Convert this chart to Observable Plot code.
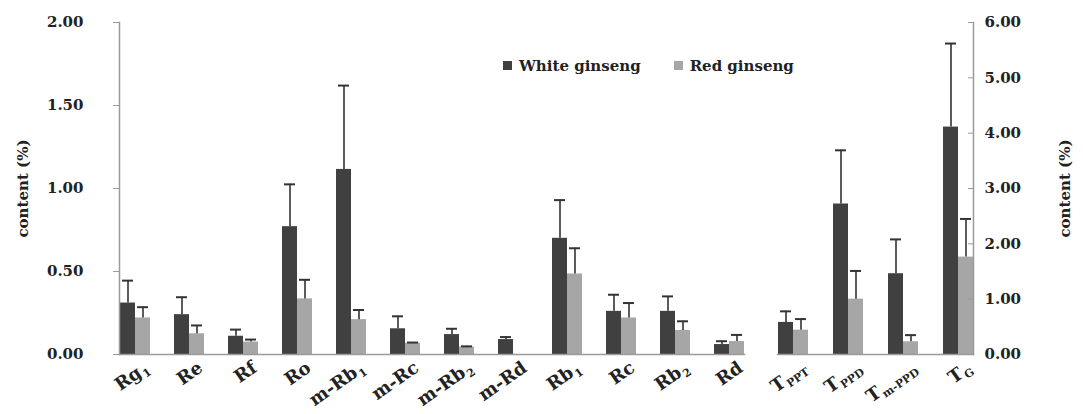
<!DOCTYPE html>
<html>
<head>
<meta charset="utf-8">
<script src="https://cdn.jsdelivr.net/npm/d3@7"></script>
<script src="https://cdn.jsdelivr.net/npm/@observablehq/plot@0.6"></script>
<style>
  html, body { margin: 0; padding: 0; background: #fff; }
  #wrap { position: relative; width: 1083px; height: 414px; overflow: hidden; font-family: "DejaVu Serif", serif; font-weight: bold; color: #222; }
  #wrap svg { position: absolute; top: 0; overflow: visible; }
  #legend { position: absolute; left: 503px; top: 57px; display: flex; gap: 33px; font-size: 15px; z-index: 2; }
  #legend span.sw { display: inline-block; width: 9px; height: 9px; margin-right: 7px; vertical-align: 1px; }
</style>
</head>
<body>
<div id="wrap"><div id="legend"></div></div>
<script>
// ---- data (content %) ----
const series = ["White ginseng", "Red ginseng"];
const seriesColors = ["#404040", "#a6a6a6"];

const leftCats = ["Rg_1", "Re", "Rf", "Ro", "m-Rb_1", "m-Rc", "m-Rb_2", "m-Rd", "Rb_1", "Rc", "Rb_2", "Rd"];
const leftWhite    = [0.31, 0.24, 0.11, 0.77, 1.115, 0.155, 0.12, 0.09, 0.70, 0.26, 0.26, 0.06];
const leftWhiteErr = [0.135, 0.105, 0.04, 0.255, 0.505, 0.075, 0.035, 0.015, 0.23, 0.10, 0.09, 0.02];
const leftRed      = [0.22, 0.125, 0.075, 0.335, 0.21, 0.068, 0.045, 0, 0.485, 0.22, 0.145, 0.078];
const leftRedErr   = [0.065, 0.05, 0.015, 0.115, 0.058, 0.004, 0.004, 0, 0.155, 0.09, 0.055, 0.04];
const leftTicks = [0, 0.5, 1, 1.5, 2];

const rightCats = ["T_PPT", "T_PPD", "T_m-PPD", "T_G"];
const rightWhite    = [0.58, 2.72, 1.46, 4.11];
const rightWhiteErr = [0.20, 0.97, 0.62, 1.51];
const rightRed      = [0.44, 1.00, 0.23, 1.76];
const rightRedErr   = [0.20, 0.51, 0.12, 0.69];
const rightTicks = [0, 1, 2, 3, 4, 5, 6];

const yLabel = "content (%)";

function rows(cats, w, we, r, re) {
  const out = [];
  cats.forEach((c, i) => {
    out.push({cat: c, series: series[0], value: w[i], err: we[i]});
    out.push({cat: c, series: series[1], value: r[i], err: re[i]});
  });
  return out;
}

// render the "_" part of category labels as a real subscript tspan
function subscriptLabels(svg) {
  svg.querySelectorAll('text').forEach(t => {
    if (t.children.length) return;
    const s = t.textContent;
    const k = s.indexOf("_");
    if (k < 0) return;
    t.textContent = s.slice(0, k);
    const ts = document.createElementNS("http://www.w3.org/2000/svg", "tspan");
    ts.setAttribute("font-size", "11");
    ts.setAttribute("dy", "0.35em");
    ts.setAttribute("dx", "1");
    ts.textContent = s.slice(k + 1);
    t.appendChild(ts);
  });
}

function panel({cats, data, ticks, domain, side, width, marginLeft, marginRight, pad}) {
  const withErr = data.filter(d => d.err > 0);
  const left = side === "left";
  const marks = [
    Plot.barY(data, {fx: "cat", x: "series", y: "value", fill: "series"}),
    Plot.ruleX(withErr, {fx: "cat", x: "series", y1: "value", y2: d => d.value + d.err, stroke: "#333", strokeWidth: 1.6}),
    Plot.tickY(withErr, {fx: "cat", x: "series", y: d => d.value + d.err, stroke: "#333", strokeWidth: 2, insetLeft: 2, insetRight: 2}),
    Plot.frame({anchor: "bottom", facet: "super", stroke: "#9a9a9a", strokeWidth: 1.5}),
    Plot.frame({anchor: side, facet: "super", stroke: "#9a9a9a", strokeWidth: 1.5}),
    Plot.text(cats, {fx: d => d, text: d => d, frameAnchor: "bottom", rotate: -35, textAnchor: "end",
      dx: 15, dy: 16, fontSize: 18, fill: "#222"})
  ];
  if (left) {
    marks.push(Plot.axisY({anchor: "left", ticks, tickFormat: d3.format(".2f"), tickSize: 6, tickPadding: 30, stroke: "#9a9a9a", fill: "#222",
      label: yLabel, labelAnchor: "center", labelOffset: 102, labelArrow: "none"}));
  } else {
    marks.push(Plot.axisY({anchor: "right", ticks, tickFormat: d3.format(".2f"), tickSize: 0, tickPadding: 11, fill: "#222",
      label: yLabel, labelAnchor: "center", labelOffset: 96, labelArrow: "none"}));
    marks.push(Plot.axisY({anchor: "right", ticks, tickFormat: () => "", tickSize: 6, dx: -6, stroke: "#9a9a9a", label: null}));
  }
  return Plot.plot({
    width, height: 414,
    marginLeft, marginRight, marginTop: 22, marginBottom: 60,
    style: {fontFamily: "DejaVu Serif", fontWeight: "bold", fontSize: "15px", color: "#222", background: "transparent", overflow: "visible"},
    fx: {domain: cats, paddingInner: pad, paddingOuter: pad / 2, label: null, axis: null},
    x: {domain: series, padding: 0, axis: null},
    y: {domain, axis: null},
    color: {domain: series, range: seriesColors},
    marks
  });
}

const wrap = document.getElementById("wrap");

const p1 = panel({cats: leftCats, data: rows(leftCats, leftWhite, leftWhiteErr, leftRed, leftRedErr),
  ticks: leftTicks, domain: [0, 2], side: "left", width: 757, marginLeft: 107, marginRight: 2, pad: 0.43});
p1.style.left = "0px";
subscriptLabels(p1);
wrap.appendChild(p1);

const p2 = panel({cats: rightCats, data: rows(rightCats, rightWhite, rightWhiteErr, rightRed, rightRedErr),
  ticks: rightTicks, domain: [0, 6], side: "right", width: 331, marginLeft: 12, marginRight: 98, pad: 0.44});
p2.style.left = "752px";
subscriptLabels(p2);
wrap.appendChild(p2);

// legend
const legend = document.getElementById("legend");
series.forEach((s, i) => {
  const item = document.createElement("div");
  item.innerHTML = `<span class="sw" style="background:${seriesColors[i]}"></span>${s}`;
  legend.appendChild(item);
});
</script>
</body>
</html>
